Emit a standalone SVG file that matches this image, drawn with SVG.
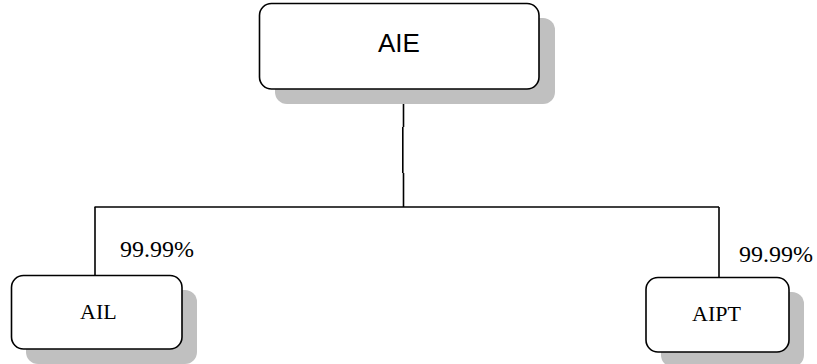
<svg xmlns="http://www.w3.org/2000/svg" width="817" height="364" viewBox="0 0 817 364">
<style>
.box{fill:#fff;stroke:#000;stroke-width:1.6}
.sh{fill:#c0c0c0;stroke:none}
.ln{stroke:#000;stroke-width:1.6;fill:none}
.serif{font-family:"Liberation Serif","Times New Roman",serif;fill:#000}
.sans{font-family:"Liberation Sans",Arial,sans-serif;fill:#000}
</style>
<rect width="817" height="364" fill="#fff"/>
<g id="connectors">
<path class="ln" d="M403.5 89 V127"/>
<path class="ln" d="M402.8 127 V173" stroke-width="2"/>
<path class="ln" d="M403.5 173 V207"/>
<path class="ln" d="M94.5 207 H719"/>
<path class="ln" d="M95 207 V275"/>
<path class="ln" d="M719 207 V277"/>
</g>
<g id="node-AIE">
<rect class="sh" x="275" y="18" width="280" height="86" rx="12"/>
<rect class="box" x="259.5" y="3.5" width="279.5" height="85.5" rx="12"/>
<text class="sans" x="399" y="52" font-size="26" text-anchor="middle">AIE</text>
</g>
<g id="node-AIL">
<rect class="sh" x="26" y="290" width="171" height="74" rx="12"/>
<rect class="box" x="11.5" y="275.5" width="170.5" height="73.5" rx="12"/>
<text class="serif" x="80" y="319" font-size="22">AIL</text>
</g>
<g id="node-AIPT">
<rect class="sh" x="661" y="292" width="143" height="75" rx="12"/>
<rect class="box" x="646" y="277.5" width="143" height="74.5" rx="12"/>
<text class="serif" x="692" y="321" font-size="22">AIPT</text>
</g>
<g id="labels">
<text class="serif" x="120" y="257" font-size="24">99.99%</text>
<text class="serif" x="739" y="262" font-size="24">99.99%</text>
</g>
</svg>
